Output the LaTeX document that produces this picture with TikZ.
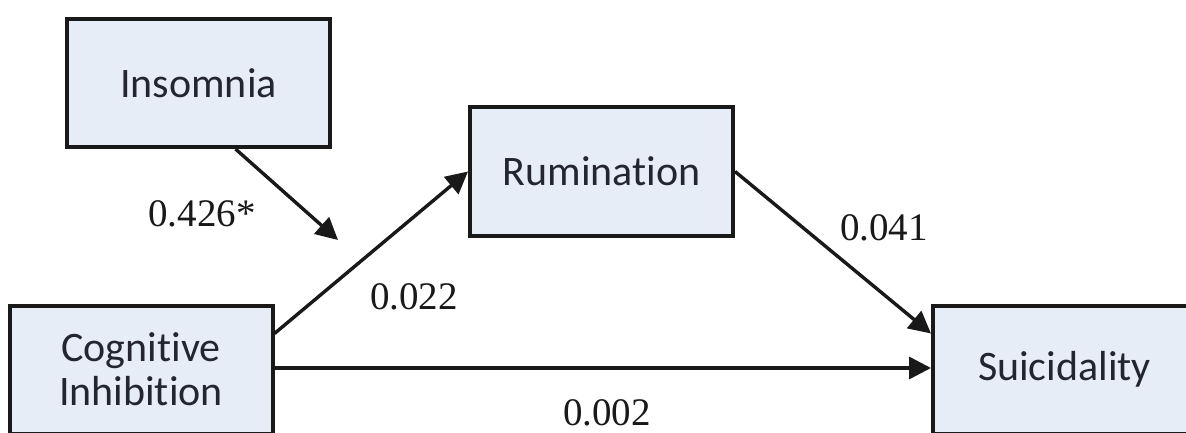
\documentclass[tikz,border=0pt]{standalone}
\usepackage{fontspec}
\setmainfont{Liberation Serif}
\newfontfamily\boxfont[Ligatures={NoCommon}]{Carlito}
\usetikzlibrary{arrows.meta}
\definecolor{boxfill}{RGB}{231,237,247}
\definecolor{boxtext}{RGB}{35,38,48}
\begin{document}
\begin{tikzpicture}[x=1pt,y=-1pt,
  varbox/.style={draw=black!90, line width=4pt, fill=boxfill, inner sep=0pt,
    minimum width=263pt, minimum height=128pt, align=center, text=boxtext,
    font=\boxfont\fontsize{42}{44}\selectfont},
  path/.style={line width=3.4pt, draw=black!90, -{Triangle[length=22pt,width=22pt]}},
  coef/.style={font=\fontsize{39}{42}\selectfont, inner sep=0pt, text=black!90}]
\useasboundingbox (0,0) rectangle (1186,433);
\fill[white] (0,0) rectangle (1186,433);
\clip (0,0) rectangle (1186,433);
\node[varbox] (ins) at (198.5,83) {Insomnia};
\node[varbox] (rum) at (601.5,171.5) {Rumination};
\node[varbox] (ci) at (141,369.5) {Cognitive\\Inhibition};
\node[varbox] (sui) at (1064.5,369.5) {Suicidality};
\coordinate (mod) at (338,240);
\draw[path] ([xshift=37pt]ins.south) -- (mod);
\draw[path] ([yshift=36pt]ci.east) -- (rum.west);
\draw[path] (rum.east) -- ([yshift=36pt]sui.west);
\draw[path] ([yshift=1.5pt]ci.east) -- ([yshift=1.5pt]sui.west);
\node[coef] (l1) at (202,214) {0.426*};
\node[coef] (l2) at (414,297) {0.022};
\node[coef] (l3) at (884,228) {0.041};
\node[coef] (l4) at (607,413) {0.002};
\end{tikzpicture}
\end{document}
